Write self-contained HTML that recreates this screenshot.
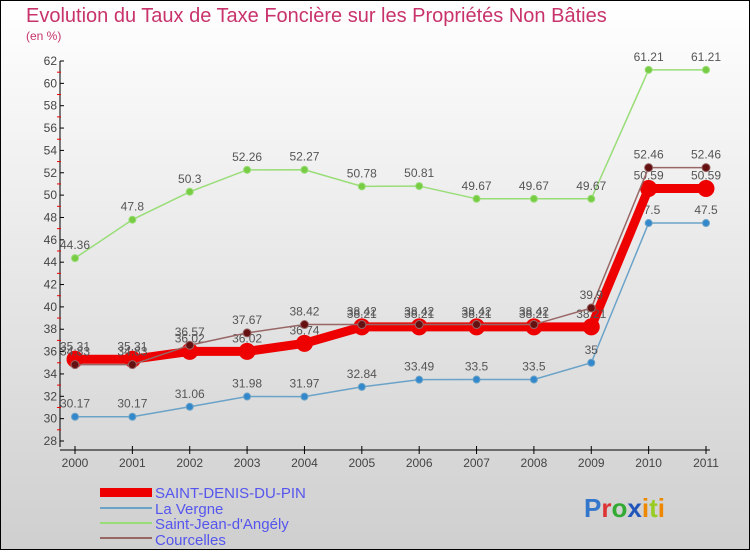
<!DOCTYPE html>
<html><head><meta charset="utf-8"><style>
body{margin:0}
#c{width:750px;height:550px;position:relative;font-family:"Liberation Sans",sans-serif}
</style></head><body>
<div id="c">
<svg id="s" width="750" height="550" xmlns="http://www.w3.org/2000/svg">
<defs><linearGradient id="bg" x1="0" y1="0" x2="0" y2="1"><stop offset="0" stop-color="#ffffff"/><stop offset="1" stop-color="#cfcfcf"/></linearGradient></defs>
<rect x="0.5" y="0.5" width="749" height="549" fill="url(#bg)" stroke="#000"/>
<text x="26" y="22" font-size="20" fill="#c8336b">Evolution du Taux de Taxe Foncière sur les Propriétés Non Bâties</text>
<text x="26" y="40" font-size="12" fill="#c8336b">(en %)</text>
<g id="axes"></g><g id="series"></g>
<g>
<rect x="100" y="488" width="52" height="9" fill="#ee0000"/>
<text x="155" y="498" font-size="15" fill="#5555ee">SAINT-DENIS-DU-PIN</text>
<line x1="100" y1="508" x2="152" y2="508" stroke="#6ba3c8" stroke-width="2"/>
<text x="155" y="514" font-size="15" fill="#5555ee">La Vergne</text>
<line x1="100" y1="523" x2="152" y2="523" stroke="#99dd77" stroke-width="2"/>
<text x="155" y="529" font-size="15" fill="#5555ee">Saint-Jean-d'Angély</text>
<line x1="100" y1="538" x2="152" y2="538" stroke="#996666" stroke-width="2"/>
<text x="155" y="545" font-size="15" fill="#5555ee">Courcelles</text>
</g>
<text x="584" y="517" font-size="26" font-weight="bold"><tspan fill="#3377cc">P</tspan><tspan fill="#dd3333">r</tspan><tspan fill="#33aa33">o</tspan><tspan fill="#2255bb">x</tspan><tspan fill="#ee8800">i</tspan><tspan fill="#99cc22">t</tspan><tspan fill="#ee8800">i</tspan></text>
</svg></div>
<script>
const years=["2000","2001","2002","2003","2004","2005","2006","2007","2008","2009","2010","2011"];
const yTicks=[28,30,32,34,36,38,40,42,44,46,48,50,52,54,56,58,60,62];
const sddp=[35.31,35.31,36.02,36.02,36.74,38.21,38.21,38.21,38.21,38.21,50.59,50.59];
const vergne=[30.17,30.17,31.06,31.98,31.97,32.84,33.49,33.5,33.5,35,47.5,47.5];
const sja=[44.36,47.8,50.3,52.26,52.27,50.78,50.81,49.67,49.67,49.67,61.21,61.21];
const courcelles=[34.83,34.83,36.57,37.67,38.42,38.42,38.42,38.42,38.42,39.9,52.46,52.46];
const NS="http://www.w3.org/2000/svg";
const X=i=>75+i*(706-75)/11;
const Y=v=>441-(v-28)*(380/34);
function mk(t,a,p){const e=document.createElementNS(NS,t);for(const k in a)e.setAttribute(k,a[k]);p.appendChild(e);return e;}
const ax=document.getElementById('axes');
const ya=mk('line',{x1:60,y1:Y(62),x2:60,y2:Y(28)+6,stroke:'#000'},ax);


const xa=mk('line',{x1:60,y1:450,x2:710,y2:450,stroke:'#000'},ax);


yTicks.forEach(v=>{
 mk('line',{x1:60,y1:Y(v),x2:64,y2:Y(v),stroke:'#000'},ax);
 if(v<62)mk('line',{x1:57,y1:Y(v+1),x2:61,y2:Y(v+1),stroke:'#e00'},ax);
 const t=mk('text',{x:57,y:Y(v)+4,'font-size':12,'text-anchor':'end',fill:'#444'},ax);t.textContent=v;
 
 
});
years.forEach((y,i)=>{
 mk('line',{x1:X(i),y1:446,x2:X(i),y2:454,stroke:'#000'},ax);
 const t=mk('text',{x:X(i),y:467,'font-size':12,'text-anchor':'middle',fill:'#444'},ax);t.textContent=y;
 
 
});
const sg=document.getElementById('series');
function draw(d,name,col,w,r,dot){
 const g=mk('g',{},sg);
 
 
 const p=mk('polyline',{points:d.map((v,i)=>X(i)+','+Y(v)).join(' '),fill:'none',stroke:col,'stroke-width':w},g);
 
 
 d.forEach((v,i)=>{
  const c=mk('circle',{cx:X(i),cy:Y(v),r:r,fill:dot,stroke:col,'stroke-width':1},g);
  
  
  const t=mk('text',{x:X(i),y:Y(v)-9,'font-size':12,'text-anchor':'middle',fill:'#555'},g);t.textContent=v;
  
  
 });
}
draw(sja,'saint-jean','#99dd77',1.5,3.5,'#77cc44');
draw(vergne,'la-vergne','#6ba3c8',1.5,3.5,'#3388cc');
draw(sddp,'saint-denis','#ee0000',9,8,'#ee0000');
draw(courcelles,'courcelles','#996666',1.5,4,'#661111');
</script>
</body></html>
